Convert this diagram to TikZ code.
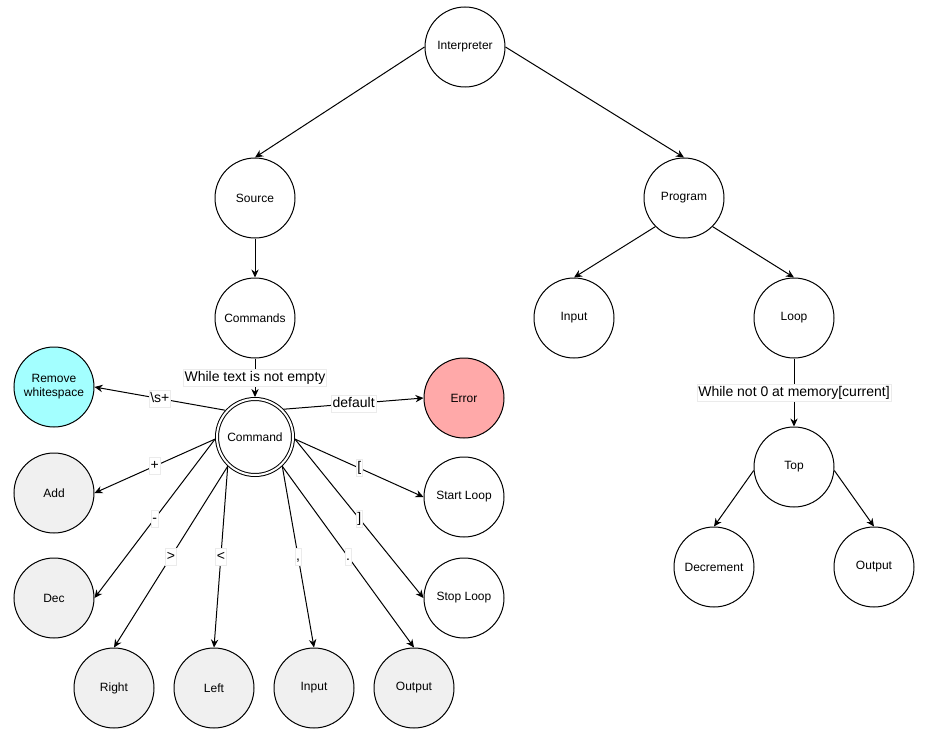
\documentclass[tikz,border=0pt]{standalone}
\usepackage{fontspec}
\setmainfont{Liberation Sans}
\usepackage{tikz}
\usetikzlibrary{arrows.meta}
\definecolor{ipink}{HTML}{FFA9A9}
\definecolor{icyan}{HTML}{A3FFFF}
\definecolor{igrey}{HTML}{F0F0F0}
\tikzset{
  inode/.style={circle, draw, fill=white, line width=0.75pt, minimum size=60pt, inner sep=0pt, align=center, font=\fontsize{9}{10.5}\selectfont},
  gnode/.style={inode, fill=igrey},
  cnode/.style={inode, minimum size=57pt, double, double distance=1.5pt, outer sep=1.5pt},
  iedge/.style={draw, line width=0.75pt, -{Stealth[length=6pt, width=5.5pt]}},
  ilbl/.style={fill=white, draw=black!8, line width=0.4pt, inner sep=1pt, text height=8pt, text depth=2.5pt, font=\fontsize{10.5}{12}\selectfont}
}
\begin{document}
\begin{tikzpicture}[x=0.75pt, y=-0.75pt]
  \useasboundingbox (0,0) rectangle (925,742);
  % top of the tree
  \node[inode] (interp) at (465,47) {Interpreter};
  \node[inode] (src) at (255,198) {Source};
  \node[inode] (prog) at (684,198) {Program};
  \node[inode] (cmds) at (255,318) {Commands};
  \node[inode] (pinp) at (574,318) {Input};
  \node[inode] (loop) at (794,318) {Loop};
  \path[iedge] (interp.west) -- (src.north);
  \path[iedge] (interp.east) -- (prog.north);
  \path[iedge] (src) -- (cmds);
  \path[iedge] (prog.225) -- (pinp.north);
  \path[iedge] (prog.315) -- (loop.north);
  % loop body
  \node[inode] (top) at (794,467) {Top};
  \node[inode] (decr) at (714,567) {Decrement};
  \node[inode] (lout) at (874,567) {Output};
  \path[iedge] (loop) -- node[ilbl] {While not 0 at memory[current]} (top);
  \path[iedge] (top.185) -- (decr.north);
  \path[iedge] (top.355) -- (lout.north);
  % command dispatch
  \node[cnode] (cmd) at (255,437) {Command};
  \node[inode, fill=icyan] (rws) at (54,387) {Remove\\whitespace};
  \node[inode, fill=ipink] (err) at (464,398) {Error};
  \node[gnode] (add) at (54,493) {Add};
  \node[gnode] (dec) at (54,598) {Dec};
  \node[gnode] (right) at (114,688) {Right};
  \node[gnode] (left) at (214,688) {Left};
  \node[gnode] (cinp) at (314,688) {Input};
  \node[gnode] (cout) at (414,688) {Output};
  \node[inode] (sloop) at (464,497) {Start Loop};
  \node[inode] (eloop) at (464,598) {Stop Loop};
  \path[iedge] (cmds) -- node[ilbl] {While text is not empty} (cmd);
  \path[iedge] (cmd.138) -- node[ilbl] {\textbackslash s+} (rws.east);
  \path[iedge] (cmd.44) -- node[ilbl] {default} (err.west);
  \path[iedge] (cmd.183) -- node[ilbl] {+} (add.east);
  \path[iedge] (cmd.183) -- node[ilbl] {-} (dec.east);
  \path[iedge] (cmd.227) -- node[ilbl] {>} (right.north);
  \path[iedge] (cmd.227) -- node[ilbl] {<} (left.north);
  \path[iedge] (cmd.313) -- node[ilbl] {,} (cinp.north);
  \path[iedge] (cmd.313) -- node[ilbl] {.} (cout.north);
  \path[iedge] (cmd.357) -- node[ilbl] {[} (sloop.west);
  \path[iedge] (cmd.357) -- node[ilbl] {]} (eloop.west);
\end{tikzpicture}
\end{document}
